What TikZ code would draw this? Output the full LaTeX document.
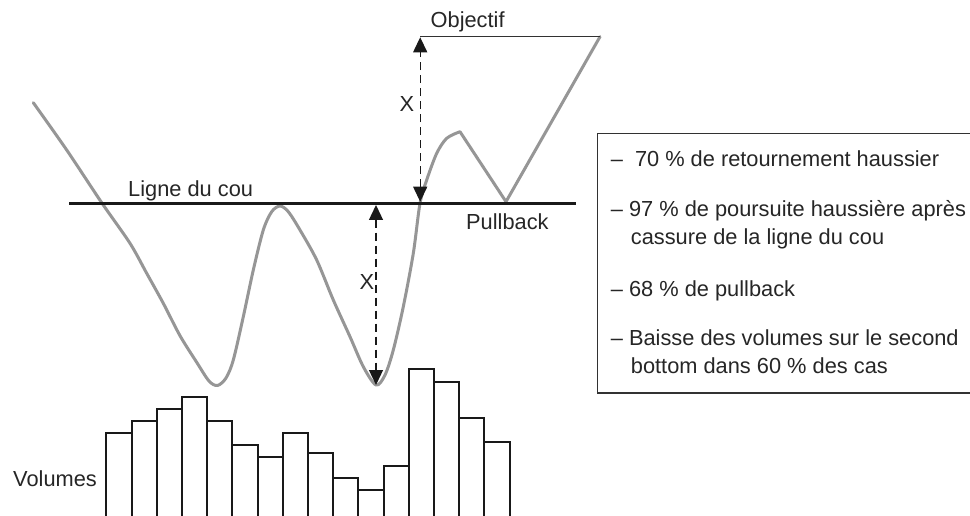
\documentclass[tikz,border=0pt]{standalone}
\usepackage{fontspec}
\setmainfont{Liberation Sans}
\usetikzlibrary{arrows.meta}
\definecolor{curvegray}{RGB}{150,150,150}
\definecolor{txt}{RGB}{38,38,38}
\definecolor{linegray}{RGB}{50,50,50}
\tikzset{
  lbl/.style={inner sep=0pt, anchor=base west, text=txt, font=\fontsize{21.8}{26}\selectfont},
  price/.style={draw=curvegray, line width=3pt, line join=round, line cap=round},
  neck/.style={draw=black!90, line width=3pt},
  target/.style={draw=linegray, line width=1.5pt},
  measure/.style={draw=black!90, line width=1.3pt, dash pattern=on 8pt off 5pt,
    {Triangle[length=15pt,width=14pt]}-{Triangle[length=15pt,width=14pt]}},
  bar/.style={draw=black!90, line width=2pt, fill=white},
  infobox/.style={draw=linegray, line width=1.3pt},
}
\begin{document}
\begin{tikzpicture}[x=1pt,y=-1pt]
\clip (0,0) rectangle (970,516);
\fill[white] (0,0) rectangle (970,516);

% volume bars
\foreach \i/\t in {0/433,1/421.3,2/409.3,3/397,4/421.3,5/445.3,6/457.3,7/433,8/453.3,9/477.7,10/489.7,11/465.7,12/369.3,13/381.7,14/417.7,15/441.7}{
  \draw[bar] ({106.4+25.2*\i},\t) rectangle ({106.4+25.2*(\i+1)},530);
}

% price curve
\draw[price] plot[smooth, tension=0.5] coordinates {
  (33.3,102.7) (66.7,150) (101.7,202.7) (130,243.3) (146.7,273.3) (163.3,303.3)
  (180,335.7) (196.7,362.3) (209,381) (217.5,385.5) (226,378) (233.3,360) (243.3,316.7)
  (253.3,270) (263.3,230) (271.7,211.7) (280,206) (288.3,211.7) (300,230)
  (316.7,260) (333.3,300) (350,336.7) (363.3,366.7) (376,385) (385,375)
  (393.3,350) (403.3,306.7) (413.3,253.3) (420,203.3) (426.7,180) (436.7,153.3)
  (446.7,138.3) (460,131.7)} -- (506,201.7) -- (600,36.7);

% neckline
\coordinate (neckL) at (69,203.3);
\coordinate (neckR) at (576,203.3);
\draw[neck] (neckL) -- (neckR);

% objective line
\coordinate (objL) at (420.2,36.7);
\coordinate (objR) at (600,36.7);
\draw[target] (objL) -- (objR);

% measuring arrows
\coordinate (upTop) at (420.2,37.3);
\coordinate (upBot) at (420.2,201.7);
\draw[measure] (upBot) -- (upTop);
\coordinate (dnTop) at (376,205);
\coordinate (dnBot) at (376,385);
\draw[measure] (dnTop) -- (dnBot);

% labels
\node[lbl] (objectif) at (430.5,27.3) {Objectif};
\node[lbl] (ligne) at (128,196.7) {Ligne du cou};
\node[lbl] (pullback) at (466,229.3) {Pullback};
\node[lbl] (x1) at (399.5,111.7) {X};
\node[lbl] (x2) at (359.5,289.3) {X};
\node[lbl] (volumes) at (13,486.7) {Volumes};

% info box
\draw[infobox] (597.3,133.3) rectangle (980,393);
\node[lbl] (l1) at (610.7,166.7) {–\hspace{0.55em}70 \% de retournement haussier};
\node[lbl] (l2) at (610.7,216.7) {– 97 \% de poursuite haussière après};
\node[lbl] (l3) at (630.7,244.7) {cassure de la ligne du cou};
\node[lbl] (l4) at (610.7,296) {– 68 \% de pullback};
\node[lbl] (l5) at (610.7,345.7) {– Baisse des volumes sur le second};
\node[lbl] (l6) at (630.7,373.7) {bottom dans 60 \% des cas};
\end{tikzpicture}
\end{document}
